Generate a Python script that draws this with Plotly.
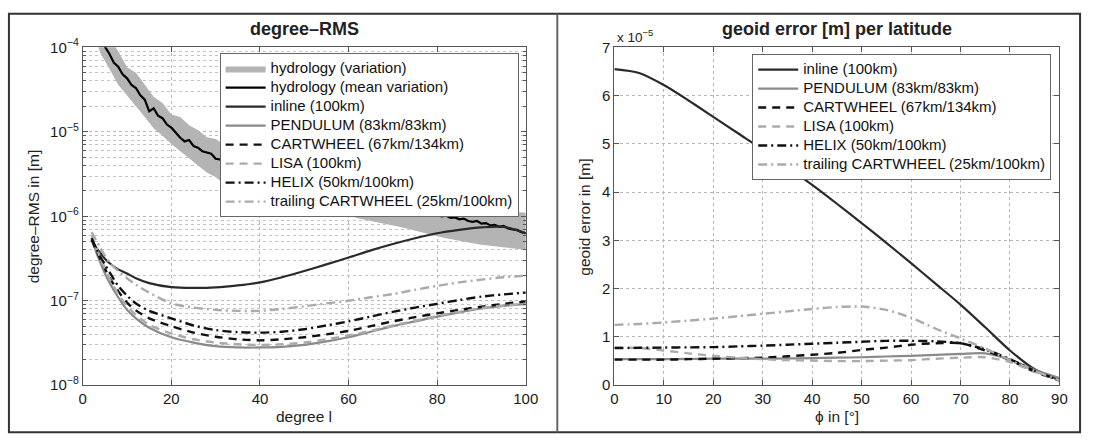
import plotly.graph_objects as go

# ---------------- left panel: degree-RMS ----------------
hyd_deg = list(range(2, 101))
hyd_mean = [2.6e-4, 1.9e-4, 1.45e-4, 1.02e-4, 8.4e-5, 6.6e-5, 5.9e-5, 4.8e-5, 4.3e-5,
            3.6e-5, 3.3e-5, 2.7e-5, 2.4e-5, 1.75e-5, 1.9e-5, 1.55e-5, 1.45e-5, 1.22e-5,
            1.12e-5, 9.8e-6, 8.5e-6, 7.7e-6, 8.0e-6, 6.8e-6, 6.5e-6, 5.9e-6, 5.7e-6,
            5.5e-6, 4.8e-6, 4.7e-6, 4.3e-6, 4.2e-6, 3.9e-6, 3.8e-6, 3.5e-6, 3.5e-6,
            3.2e-6, 3.1e-6, 3.0e-6, 2.85e-6, 2.8e-6, 2.65e-6, 2.6e-6, 2.45e-6, 2.4e-6,
            2.3e-6, 2.2e-6, 2.15e-6, 2.05e-6, 2.0e-6, 1.95e-6, 1.88e-6, 1.85e-6, 1.75e-6,
            1.78e-6, 1.68e-6, 1.62e-6, 1.65e-6, 1.55e-6, 1.5e-6, 1.53e-6, 1.45e-6, 1.42e-6,
            1.44e-6, 1.36e-6, 1.33e-6, 1.36e-6, 1.28e-6, 1.27e-6, 1.3e-6, 1.22e-6, 1.2e-6,
            1.22e-6, 1.14e-6, 1.15e-6, 1.1e-6, 1.12e-6, 1.05e-6, 1.06e-6, 1.0e-6, 1.02e-6,
            9.6e-7, 9.7e-7, 9.2e-7, 9.4e-7, 8.8e-7, 8.6e-7, 8.8e-7, 8.2e-7, 8.3e-7, 7.8e-7,
            7.9e-7, 7.5e-7, 7.7e-7, 7.2e-7, 7.0e-7, 6.9e-7, 6.5e-7, 6.3e-7]

band_deg = list(range(2, 101, 2))
band_upper = [4e-4, 2.3e-4, 1.3e-4, 9e-5, 5.8e-5, 5e-5, 3.6e-5, 2.6e-5, 2.2e-5, 1.6e-5,
              1.5e-5, 1.2e-5, 1.05e-5, 8.6e-6, 8.2e-6, 7e-6, 6.2e-6, 5.8e-6, 5.2e-6, 4.8e-6,
              4.5e-6, 4.1e-6, 3.9e-6, 3.6e-6, 3.3e-6, 3.2e-6, 2.9e-6, 2.8e-6, 2.6e-6, 2.5e-6,
              2.4e-6, 2.2e-6, 2.15e-6, 2.0e-6, 1.95e-6, 1.85e-6, 1.8e-6, 1.7e-6, 1.65e-6,
              1.6e-6, 1.5e-6, 1.45e-6, 1.4e-6, 1.35e-6, 1.3e-6, 1.25e-6, 1.2e-6, 1.15e-6,
              1.12e-6, 1.1e-6]
band_lower = [1.7e-4, 8.5e-5, 5.6e-5, 3.6e-5, 2.7e-5, 2.0e-5, 1.5e-5, 1.1e-5, 9e-6, 7.2e-6,
              5.8e-6, 4.8e-6, 4.0e-6, 3.3e-6, 2.9e-6, 2.4e-6, 2.2e-6, 1.95e-6, 1.75e-6,
              1.62e-6, 1.52e-6, 1.42e-6, 1.38e-6, 1.32e-6, 1.27e-6, 1.22e-6, 1.18e-6,
              1.12e-6, 1.08e-6, 1.03e-6, 9.5e-7, 9.0e-7, 8.6e-7, 8.2e-7, 7.8e-7, 7.4e-7,
              7.0e-7, 6.6e-7, 6.2e-7, 5.8e-7, 5.5e-7, 5.2e-7, 5.0e-7, 4.8e-7, 4.6e-7, 4.4e-7,
              4.3e-7, 4.2e-7, 4.1e-7, 4.0e-7]

sat_deg = [2, 3, 4, 5, 6, 8, 10, 12, 15, 20, 25, 30, 35, 40, 45, 50, 55, 60, 65, 70,
           75, 80, 85, 90, 95, 100]
rms_inline = [5.2e-7, 4.3e-7, 3.65e-7, 3.15e-7, 2.8e-7, 2.35e-7, 2.1e-7, 1.85e-7, 1.62e-7,
              1.45e-7, 1.42e-7, 1.44e-7, 1.52e-7, 1.65e-7, 1.9e-7, 2.25e-7, 2.7e-7,
              3.25e-7, 3.95e-7, 4.7e-7, 5.5e-7, 6.3e-7, 6.9e-7, 7.4e-7, 7.5e-7, 6.3e-7]
rms_pendulum = [5.5e-7, 3.8e-7, 2.8e-7, 2.1e-7, 1.65e-7, 1.1e-7, 7.8e-8, 6.2e-8, 4.8e-8,
                3.7e-8, 3.2e-8, 2.9e-8, 2.8e-8, 2.8e-8, 2.85e-8, 3.0e-8, 3.3e-8, 3.7e-8,
                4.3e-8, 5.0e-8, 5.7e-8, 6.5e-8, 7.3e-8, 8.1e-8, 8.7e-8, 9.1e-8]
rms_cartwheel = [5.3e-7, 4.0e-7, 3.1e-7, 2.4e-7, 1.9e-7, 1.3e-7, 9.5e-8, 7.7e-8, 6.2e-8,
                 5.0e-8, 4.2e-8, 3.75e-8, 3.5e-8, 3.4e-8, 3.5e-8, 3.7e-8, 4.0e-8, 4.4e-8,
                 5.0e-8, 5.7e-8, 6.4e-8, 7.1e-8, 7.8e-8, 8.5e-8, 9.2e-8, 9.8e-8]
rms_lisa = [6.0e-7, 4.3e-7, 3.2e-7, 2.4e-7, 1.85e-7, 1.2e-7, 8.6e-8, 6.8e-8, 5.2e-8,
            4.1e-8, 3.5e-8, 3.2e-8, 3.05e-8, 3.0e-8, 3.05e-8, 3.2e-8, 3.5e-8, 3.9e-8,
            4.4e-8, 5.1e-8, 5.8e-8, 6.6e-8, 7.4e-8, 8.2e-8, 8.8e-8, 9.2e-8]
rms_helix = [5.5e-7, 4.2e-7, 3.3e-7, 2.7e-7, 2.2e-7, 1.5e-7, 1.15e-7, 9.3e-8, 7.6e-8,
             6.2e-8, 5.1e-8, 4.5e-8, 4.25e-8, 4.2e-8, 4.3e-8, 4.6e-8, 5.1e-8, 5.7e-8,
             6.5e-8, 7.4e-8, 8.3e-8, 9.2e-8, 1.02e-7, 1.12e-7, 1.19e-7, 1.25e-7]
rms_trailing = [6.5e-7, 5.2e-7, 4.2e-7, 3.4e-7, 2.85e-7, 2.25e-7, 1.85e-7, 1.55e-7, 1.25e-7,
                9.3e-8, 8.3e-8, 7.8e-8, 7.6e-8, 7.6e-8, 8.0e-8, 8.6e-8, 9.3e-8, 1.0e-7,
                1.1e-7, 1.2e-7, 1.35e-7, 1.5e-7, 1.65e-7, 1.78e-7, 1.9e-7, 1.98e-7]

# ---------------- right panel: geoid error per latitude (x 1e-5 m) ----------------
phi = [0, 5, 10, 15, 20, 25, 30, 35, 40, 45, 50, 55, 60, 65, 70, 75, 80, 85, 90]
geo_inline = [6.55, 6.47, 6.22, 5.9, 5.56, 5.22, 4.88, 4.52, 4.15, 3.76, 3.36, 2.95, 2.53,
              2.1, 1.67, 1.2, 0.72, 0.33, 0.12]
geo_pendulum = [0.54, 0.54, 0.54, 0.545, 0.55, 0.55, 0.55, 0.555, 0.56, 0.57, 0.58, 0.595,
                0.61, 0.63, 0.65, 0.66, 0.53, 0.32, 0.15]
geo_cartwheel = [0.53, 0.53, 0.53, 0.54, 0.55, 0.56, 0.57, 0.6, 0.63, 0.67, 0.73, 0.78,
                 0.84, 0.87, 0.87, 0.72, 0.52, 0.28, 0.1]
geo_lisa = [0.78, 0.77, 0.72, 0.66, 0.61, 0.57, 0.54, 0.52, 0.51, 0.5, 0.5, 0.51, 0.52,
            0.55, 0.57, 0.58, 0.48, 0.28, 0.1]
geo_helix = [0.77, 0.775, 0.78, 0.785, 0.79, 0.805, 0.82, 0.84, 0.86, 0.88, 0.9, 0.92,
             0.92, 0.91, 0.87, 0.74, 0.54, 0.3, 0.1]
geo_trailing = [1.25, 1.27, 1.3, 1.34, 1.38, 1.43, 1.48, 1.53, 1.58, 1.62, 1.63, 1.56, 1.4,
                1.17, 0.97, 0.76, 0.52, 0.3, 0.1]

left_yticks = [1e-8, 1e-7, 1e-6, 1e-5, 1e-4]
left_yticktext = ["10<sup>−8</sup>", "10<sup>−7</sup>", "10<sup>−6</sup>",
                  "10<sup>−5</sup>", "10<sup>−4</sup>"]

FONT = "Liberation Sans, Arial, Helvetica, sans-serif"
W, H = 1097, 443
BLACK = "#111111"
DARK = "#2a2a2a"
GREY = "#8a8a8a"
LGREY = "#ababab"
DASH = "8px,6px"
DASHDOT = "9px,4px,2px,4px"

styles = [
    ("inline (100km)", DARK, "solid", 2.2),
    ("PENDULUM (83km/83km)", GREY, "solid", 2.2),
    ("CARTWHEEL (67km/134km)", BLACK, DASH, 2.4),
    ("LISA (100km)", LGREY, DASH, 2.4),
    ("HELIX (50km/100km)", BLACK, DASHDOT, 2.4),
    ("trailing CARTWHEEL (25km/100km)", LGREY, DASHDOT, 2.4),
]


def lname(s):
    return '<span style="font-size:15px">' + s + '</span>'


fig = go.Figure()

# band
fig.add_trace(go.Scatter(
    x=band_deg + band_deg[::-1], y=band_upper + band_lower[::-1],
    fill="toself", fillcolor="#b4b4b4", line=dict(width=0, color="#b4b4b4"),
    mode="lines", name=lname("hydrology (variation)"), legend="legend",
    xaxis="x", yaxis="y", hoverinfo="skip"))
fig.add_trace(go.Scatter(
    x=hyd_deg, y=hyd_mean, mode="lines", line=dict(color="#000000", width=2.2),
    name=lname("hydrology (mean variation)"), legend="legend", xaxis="x", yaxis="y"))

left_series = [rms_inline, rms_pendulum, rms_cartwheel, rms_lisa, rms_helix, rms_trailing]
for (name, col, dash, w), ys in zip(styles, left_series):
    fig.add_trace(go.Scatter(
        x=sat_deg, y=ys, mode="lines", name=lname(name),
        line=dict(color=col, dash=dash, width=w, shape="spline", smoothing=0.8),
        legend="legend", xaxis="x", yaxis="y"))

right_series = [geo_inline, geo_pendulum, geo_cartwheel, geo_lisa, geo_helix, geo_trailing]
for (name, col, dash, w), ys in zip(styles, right_series):
    fig.add_trace(go.Scatter(
        x=phi, y=ys, mode="lines", name=lname(name),
        line=dict(color=col, dash=dash, width=w, shape="spline", smoothing=0.8),
        legend="legend2", xaxis="x2", yaxis="y2"))


def px_x(p):
    return p / W


def px_y(p):
    return 1 - p / H


ytop, ybot = 38, 391
axis_common = dict(
    showline=True, linecolor="#555555", linewidth=1, mirror="allticks",
    ticks="inside", ticklen=5, tickcolor="#555555",
    showgrid=True, gridcolor="#b8b8b8", griddash="dot", gridwidth=1,
    zeroline=False, tickfont=dict(family=FONT, size=15, color="#1a1a1a"),
)

legend_common = dict(xanchor="left", yanchor="top", bgcolor="white",
                     bordercolor="#666666", borderwidth=1,
                     font=dict(family=FONT, size=12, color="#111111"),
                     tracegroupgap=0, itemwidth=40)

fig.update_layout(
    width=W, height=H, margin=dict(l=0, r=0, t=0, b=0),
    paper_bgcolor="white", plot_bgcolor="white",
    font=dict(family=FONT, color="#222222"),
    xaxis=dict(domain=[px_x(80), px_x(530)], range=[0, 100], dtick=20, anchor="y",
               **axis_common),
    yaxis=dict(domain=[px_y(ybot), px_y(ytop)], type="log", range=[-8, -4],
               tickmode="array", tickvals=left_yticks, ticktext=left_yticktext,
               anchor="x",
               minor=dict(dtick="D1", showgrid=True, gridcolor="#c4c4c4",
                          griddash="dot", ticks="inside", ticklen=3,
                          tickcolor="#555555"),
               **axis_common),
    xaxis2=dict(domain=[px_x(620), px_x(1072)], range=[0, 90], dtick=10, anchor="y2",
                **axis_common),
    yaxis2=dict(domain=[px_y(ybot), px_y(ytop)], range=[0, 7], dtick=1, anchor="x2",
                **axis_common),
    legend=dict(x=px_x(219), y=px_y(44), **legend_common),
    legend2=dict(x=px_x(760), y=px_y(45), **legend_common),
    showlegend=True,
)

annos = [
    dict(text="<b>degree–RMS</b>", x=px_x(305), y=px_y(19), font=dict(size=18)),
    dict(text="<b>geoid error [m] per latitude</b>", x=px_x(846), y=px_y(19),
         font=dict(size=18)),
    dict(text="degree l", x=px_x(305), y=px_y(424), font=dict(size=15.5)),
    dict(text="ϕ in [°]", x=px_x(846), y=px_y(424), font=dict(size=15.5)),
    dict(text="degree–RMS in [m]", x=px_x(30), y=px_y(215), textangle=-90,
         font=dict(size=15.5)),
    dict(text="geoid error in [m]", x=px_x(590), y=px_y(215), textangle=-90,
         font=dict(size=15.5)),
    dict(text="x 10<sup>−5</sup>", x=px_x(621), y=px_y(26), xanchor="left",
         font=dict(size=13.5)),
]
for a in annos:
    base = dict(xref="paper", yref="paper", showarrow=False, xanchor="center",
                yanchor="middle")
    base.update(a)
    base["font"] = dict(family=FONT, color="#222222", **a["font"])
    fig.add_annotation(**base)

fig.add_shape(type="rect", xref="paper", yref="paper",
              x0=px_x(5), x1=px_x(1093), y0=px_y(440), y1=px_y(3),
              line=dict(color="#333333", width=2), layer="above")
fig.add_shape(type="line", xref="paper", yref="paper",
              x0=px_x(562), x1=px_x(562), y0=px_y(440), y1=px_y(3),
              line=dict(color="#666666", width=2), layer="above")

fig.write_html("out.html",
               config={"displayModeBar": False},
               post_script="document.body.style.margin='0';"
                           "document.body.style.overflow='hidden';")
